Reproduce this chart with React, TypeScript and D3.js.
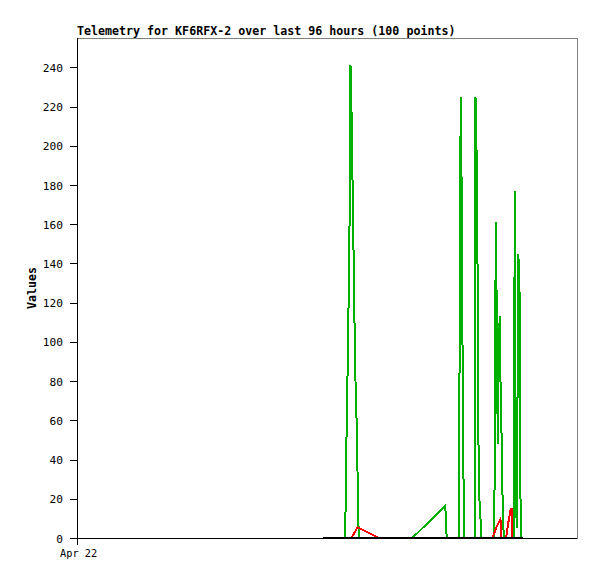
import React from "react";
import * as d3 from "d3";

// hours since Apr 22 00:00
const greenHours = [47.29, 51.49, 51.59, 51.78, 52.03, 52.22, 52.38, 52.51, 52.67, 52.86, 53.05, 53.22, 53.41, 53.76, 53.95, 54.11,
  64.38, 70.71, 70.85, 70.98,
  73.34, 73.48, 73.67, 73.82, 73.98, 74.17, 74.36,
  76.42, 76.51, 76.74, 76.93, 77.03, 77.18, 77.51, 77.63,
  80.12, 80.26, 80.41, 80.60, 80.78, 80.97, 81.16, 81.31, 81.45, 81.64, 81.83, 81.98,
  83.90, 84.04, 84.15, 84.25, 84.35, 84.44, 84.58, 84.73, 84.96, 85.11, 85.34, 85.57];
const greenValues = [0, 0, 20, 58, 97, 135, 173, 241, 224, 189, 155, 121, 86, 52, 17, 0,
  0, 16.4, 8, 0,
  0, 113, 225, 187, 113, 38, 0,
  0, 225, 193, 129, 64, 24, 8, 0,
  0, 80, 161, 113, 48, 96, 113, 80, 64, 29, 7, 0,
  0, 177, 88, 10, 72, 5, 72, 145, 128, 25, 0, 0];

const redHours = [47.29, 52.70, 53.86, 57.98, 79.68, 80.06, 80.45, 80.83, 81.31, 81.45, 82.37, 82.66, 82.94, 83.23, 83.46, 83.62, 85.57];
const redValues = [0, 0, 5.5, 0, 0, 2, 5, 7, 9.5, 0, 0, 5, 10, 14, 15.3, 0, 0];

const blackHours = [47.29, 85.57];
const blackValues = [0, 0];

const yTicks = [0, 20, 40, 60, 80, 100, 120, 140, 160, 180, 200, 220, 240];
const xTickHours = [0];
const xTickLabels = ["Apr 22"];
const title = "Telemetry for KF6RFX-2 over last 96 hours (100 points)";

export default function App() {
  const W = 597, H = 579;
  const left = 77, right = 577, top = 38, bottom = 538;
  const x = d3.scaleLinear().domain([0, 96]).range([left, right]);
  const y = d3.scaleLinear().domain([0, 255]).range([bottom, top]);
  const line = d3.line<[number, number]>().x(d => x(d[0])).y(d => y(d[1]));
  const mk = (hs: number[], vs: number[]) => hs.map((h, i) => [h, vs[i]] as [number, number]);
  const mono = "'DejaVu Sans Mono', monospace";
  return (
    <svg width={W} height={H} style={{ position: "absolute", left: 0, top: 0 }} shapeRendering="crispEdges">
      <rect x={0} y={0} width={W} height={H} fill="#fff" />
      <text x={left} y={35} fontFamily={mono} fontWeight="bold" fontSize={11.65} fill="#000">{title}</text>
      <rect x={left} y={top} width={right - left} height={bottom - top} fill="none" stroke="#808080" strokeWidth={1} />
      <line x1={left} y1={top} x2={left} y2={bottom + 7} stroke="#000" />
      <line x1={left} y1={bottom} x2={right} y2={bottom} stroke="#000" />
      {yTicks.map(t => (
        <g key={t}>
          <line x1={left - 7} x2={left} y1={Math.round(y(t)) + 0.5} y2={Math.round(y(t)) + 0.5} stroke="#000" />
          <text x={63} y={y(t) + 4.5} textAnchor="end" fontFamily={mono} fontSize={11.2} fill="#000">{t}</text>
        </g>
      ))}
      {xTickHours.map((h, i) => (
        <text key={i} x={x(h) - 17} y={557} fontFamily={mono} fontSize={10.3} fill="#000">{xTickLabels[i]}</text>
      ))}
      <text transform={`translate(36,${(top + bottom) / 2}) rotate(-90)`} textAnchor="middle" fontFamily={mono} fontWeight="bold" fontSize={11.6} fill="#000">Values</text>
      <g fill="none" strokeWidth={2} strokeLinejoin="miter">
        <path d={line(mk(greenHours, greenValues)) || ""} stroke="#00b000" />
        <path d={line(mk(redHours, redValues)) || ""} stroke="#ff0000" />
        <path d={line(mk(blackHours, blackValues)) || ""} stroke="#000" />
      </g>
    </svg>
  );
}
